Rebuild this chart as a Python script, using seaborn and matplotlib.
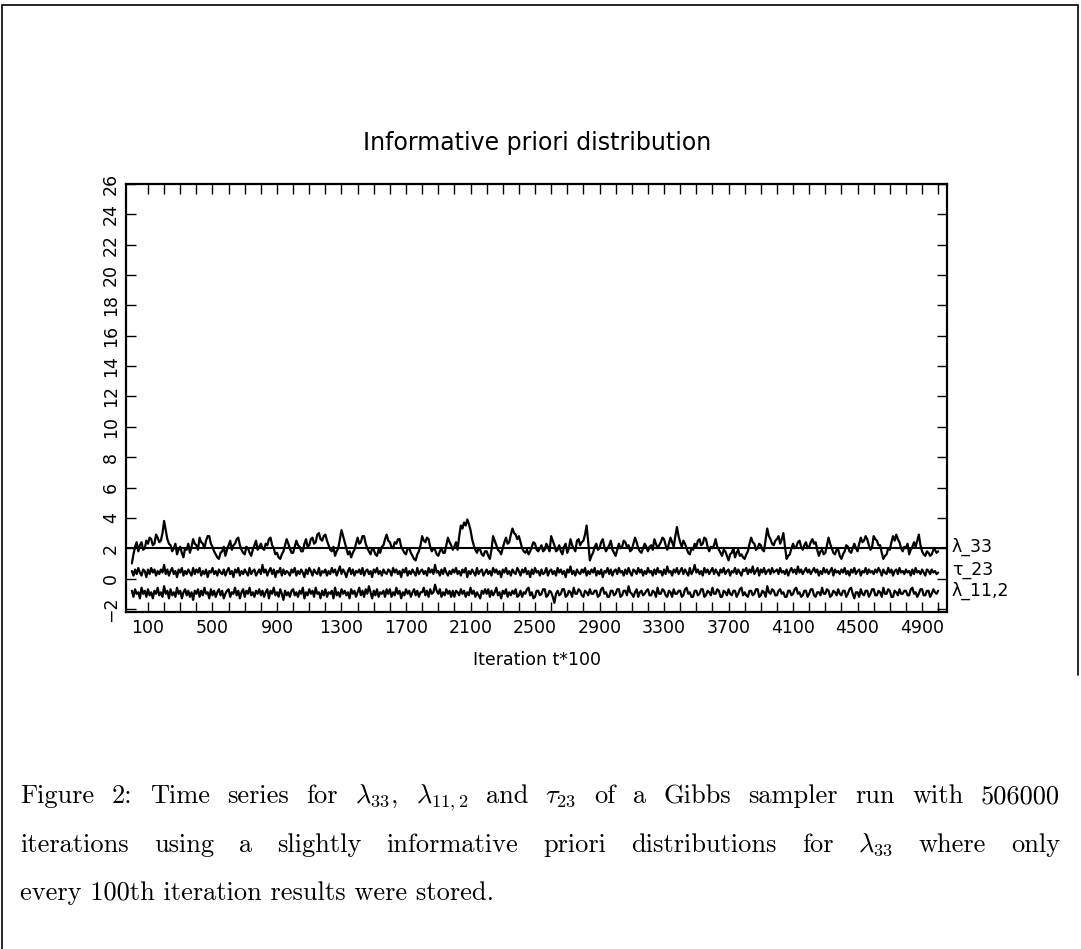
import numpy as np
import pandas as pd
import matplotlib
matplotlib.use("Agg")
import matplotlib.pyplot as plt
import seaborn as sns

# stored iterations (x axis in units of 100 iterations)
iterations = list(range(0, 5001, 10))

# lambda_33 trace
lam33 = [
    1.0, 1.6, 2.1, 2.4, 1.8, 2.2, 2.4, 1.9, 2.0, 2.5, 2.3, 2.7, 2.6, 2.2, 2.3, 2.9, 2.7, 2.4, 2.5, 3.0,
    3.8, 3.2, 2.6, 2.3, 2.2, 1.8, 2.0, 2.3, 1.6, 1.9, 2.1, 1.7, 1.4, 2.0, 1.9, 2.3, 1.7, 2.1, 2.6, 2.3,
    2.2, 1.9, 2.7, 2.4, 2.3, 2.0, 2.5, 2.8, 2.8, 2.3, 2.1, 1.8, 1.6, 1.4, 1.3, 1.7, 1.8, 2.1, 1.5, 1.9,
    2.2, 2.5, 1.9, 2.2, 2.3, 2.6, 2.7, 2.2, 1.9, 1.7, 1.6, 2.1, 2.0, 1.7, 1.5, 1.9, 2.2, 2.5, 1.9, 2.1,
    2.3, 2.0, 1.9, 2.3, 2.2, 2.6, 2.7, 2.2, 2.0, 1.6, 1.7, 1.4, 1.3, 1.6, 1.8, 2.2, 2.6, 2.3, 2.0, 1.7,
    1.7, 2.1, 2.5, 2.2, 2.1, 1.8, 1.8, 2.3, 2.6, 2.1, 2.2, 2.6, 2.7, 2.3, 2.4, 2.9, 3.0, 2.6, 2.5, 2.8,
    2.9, 2.5, 2.2, 1.9, 1.8, 2.1, 1.5, 1.8, 2.0, 2.6, 3.2, 2.8, 2.4, 2.0, 1.6, 1.8, 1.4, 1.7, 1.9, 2.3,
    2.7, 2.3, 2.4, 2.8, 2.8, 2.3, 2.0, 1.8, 1.6, 2.0, 1.9, 1.6, 1.5, 1.9, 1.7, 2.1, 2.2, 2.6, 2.9, 2.5,
    2.4, 2.1, 2.0, 2.4, 2.3, 2.6, 2.6, 2.1, 1.9, 1.7, 1.6, 2.0, 2.0, 1.7, 1.5, 1.3, 1.2, 1.6, 1.8, 2.2,
    2.8, 2.5, 2.4, 2.7, 2.6, 2.1, 1.8, 2.0, 1.9, 1.6, 1.5, 1.8, 2.0, 1.7, 1.7, 2.2, 2.7, 2.4, 2.2, 1.9,
    2.1, 2.4, 1.9, 2.8, 3.5, 3.3, 3.7, 3.5, 3.9, 3.6, 3.2, 2.6, 2.2, 1.9, 1.7, 2.0, 1.9, 1.6, 1.5, 1.8,
    1.8, 1.5, 1.3, 1.9, 2.8, 2.5, 2.2, 1.9, 1.8, 1.6, 2.0, 2.4, 2.7, 2.3, 2.4, 2.9, 3.3, 3.0, 2.9, 2.6,
    2.8, 2.4, 2.0, 1.8, 1.7, 1.9, 1.6, 1.8, 2.1, 2.4, 2.3, 1.9, 1.8, 2.0, 2.2, 1.8, 1.9, 2.3, 2.1, 1.8,
    2.8, 2.5, 2.2, 1.8, 1.9, 2.2, 1.8, 1.6, 2.1, 2.3, 1.7, 2.0, 2.6, 2.2, 2.0, 1.8, 2.5, 2.6, 2.2, 2.4,
    2.5, 2.9, 3.5, 2.4, 1.2, 1.5, 1.7, 2.1, 2.3, 1.9, 2.0, 2.4, 2.6, 2.1, 1.8, 2.0, 2.2, 2.5, 1.9, 1.7,
    1.5, 1.9, 2.3, 2.0, 2.1, 2.5, 2.4, 2.1, 2.2, 1.8, 1.9, 2.3, 2.7, 2.4, 2.0, 1.8, 1.7, 2.0, 2.3, 2.1,
    1.8, 2.1, 2.2, 1.9, 2.6, 2.3, 2.0, 2.2, 2.4, 2.7, 2.6, 2.2, 1.9, 2.3, 2.7, 2.4, 2.1, 2.8, 3.4, 2.8,
    2.4, 2.1, 2.5, 2.3, 2.0, 1.7, 1.6, 2.0, 1.9, 2.3, 2.1, 2.5, 2.6, 2.2, 2.3, 2.7, 2.6, 2.1, 1.8, 2.1,
    2.0, 2.2, 2.6, 2.1, 1.9, 1.7, 1.5, 1.9, 1.8, 1.5, 1.2, 1.6, 1.7, 2.0, 1.4, 1.7, 1.9, 1.5, 1.6, 1.4,
    1.3, 1.6, 1.8, 2.3, 2.7, 2.4, 2.3, 1.9, 2.0, 2.3, 2.2, 1.9, 1.8, 2.6, 3.3, 2.8, 2.6, 2.3, 2.2, 2.5,
    2.6, 2.8, 2.3, 2.6, 3.0, 2.1, 1.3, 1.5, 1.6, 2.0, 2.3, 2.0, 2.1, 2.4, 2.5, 2.1, 1.9, 2.2, 2.4, 2.0,
    2.1, 2.4, 2.6, 2.3, 2.4, 1.9, 1.5, 1.8, 1.9, 1.6, 1.7, 2.2, 2.7, 2.3, 2.0, 1.7, 1.6, 1.9, 1.9, 1.5,
    1.3, 1.6, 1.8, 2.2, 2.1, 1.8, 1.7, 2.0, 2.3, 2.0, 1.8, 2.3, 2.7, 2.4, 2.5, 2.8, 2.6, 2.2, 1.9, 2.1,
    2.8, 2.6, 2.5, 2.2, 2.2, 1.7, 1.3, 1.5, 1.6, 2.0, 1.9, 2.4, 2.8, 2.5, 2.9, 2.6, 2.4, 2.0, 1.8, 2.1,
    2.0, 2.3, 1.6, 1.9, 2.1, 2.4, 2.1, 2.5, 2.9, 2.2, 1.8, 1.6, 1.5, 1.8, 1.7, 1.5, 1.6, 1.9, 1.9, 1.7,
    1.8,
]

# tau_23 trace
tau23 = [
    0.5, 0.2, 0.6, 0.3, 0.7, 0.4, 0.2, 0.6, 0.5, 0.1, 0.6, 0.3, 0.7, 0.4, 0.6, 0.2, 0.5, 0.3, 0.6, 0.4,
    0.9, 0.3, 0.6, 0.2, 0.5, 0.7, 0.3, 0.5, 0.1, 0.6, 0.4, 0.7, 0.2, 0.5, 0.3, 0.6, 0.4, 0.2, 0.7, 0.3,
    0.6, 0.4, 0.7, 0.2, 0.5, 0.3, 0.6, 0.1, 0.5, 0.4, 0.7, 0.3, 0.5, 0.2, 0.6, 0.4, 0.3, 0.6, 0.2, 0.5,
    0.7, 0.3, 0.5, 0.1, 0.6, 0.4, 0.7, 0.2, 0.5, 0.3, 0.6, 0.4, 0.2, 0.7, 0.3, 0.5, 0.6, 0.2, 0.4, 0.6,
    0.3, 0.9, 0.4, 0.6, 0.2, 0.5, 0.7, 0.3, 0.6, 0.1, 0.5, 0.4, 0.7, 0.2, 0.6, 0.3, 0.5, 0.4, 0.2, 0.6,
    0.4, 0.7, 0.2, 0.5, 0.3, 0.6, 0.4, 0.1, 0.6, 0.3, 0.7, 0.5, 0.2, 0.6, 0.4, 0.3, 0.7, 0.2, 0.5, 0.4,
    0.6, 0.2, 0.5, 0.3, 0.7, 0.4, 0.6, 0.2, 0.5, 0.8, 0.3, 0.6, 0.4, 0.1, 0.5, 0.7, 0.3, 0.6, 0.2, 0.5,
    0.4, 0.6, 0.3, 0.7, 0.2, 0.5, 0.6, 0.3, 0.5, 0.1, 0.6, 0.4, 0.7, 0.3, 0.5, 0.2, 0.6, 0.4, 0.3, 0.6,
    0.5, 0.2, 0.7, 0.4, 0.6, 0.3, 0.5, 0.1, 0.6, 0.4, 0.7, 0.2, 0.5, 0.3, 0.6, 0.4, 0.2, 0.7, 0.3, 0.5,
    0.6, 0.3, 0.5, 0.2, 0.7, 0.4, 0.6, 0.3, 0.9, 0.4, 0.5, 0.2, 0.6, 0.3, 0.7, 0.4, 0.2, 0.5, 0.3, 0.6,
    0.4, 0.7, 0.3, 0.5, 0.2, 0.6, 0.4, 0.7, 0.1, 0.5, 0.3, 0.6, 0.4, 0.2, 0.7, 0.3, 0.5, 0.6, 0.2, 0.4,
    0.6, 0.3, 0.5, 0.2, 0.7, 0.4, 0.6, 0.3, 0.5, 0.1, 0.6, 0.4, 0.7, 0.3, 0.5, 0.2, 0.6, 0.4, 0.3, 0.7,
    0.5, 0.2, 0.6, 0.4, 0.7, 0.3, 0.5, 0.1, 0.6, 0.3, 0.7, 0.4, 0.5, 0.2, 0.6, 0.3, 0.4, 0.7, 0.2, 0.5,
    0.6, 0.3, 0.5, 0.2, 0.7, 0.4, 0.6, 0.3, 0.5, 0.1, 0.6, 0.4, 0.8, 0.3, 0.5, 0.2, 0.6, 0.4, 0.3, 0.6,
    0.4, 0.7, 0.2, 0.5, 0.3, 0.6, 0.4, 0.7, 0.2, 0.5, 0.3, 0.6, 0.1, 0.5, 0.4, 0.7, 0.3, 0.6, 0.2, 0.5,
    0.6, 0.3, 0.7, 0.4, 0.5, 0.2, 0.6, 0.3, 0.7, 0.4, 0.2, 0.6, 0.5, 0.3, 0.7, 0.4, 0.6, 0.2, 0.5, 0.3,
    0.7, 0.4, 0.5, 0.2, 0.6, 0.3, 0.7, 0.4, 0.5, 0.2, 0.6, 0.3, 0.8, 0.4, 0.5, 0.2, 0.6, 0.4, 0.7, 0.3,
    0.5, 0.7, 0.3, 0.6, 0.4, 0.2, 0.7, 0.3, 0.5, 0.9, 0.4, 0.6, 0.3, 0.5, 0.2, 0.7, 0.4, 0.6, 0.3, 0.5,
    0.7, 0.3, 0.6, 0.4, 0.2, 0.6, 0.4, 0.7, 0.3, 0.5, 0.6, 0.2, 0.5, 0.4, 0.7, 0.3, 0.6, 0.4, 0.2, 0.6,
    0.5, 0.7, 0.3, 0.6, 0.4, 0.8, 0.3, 0.5, 0.7, 0.2, 0.6, 0.4, 0.7, 0.3, 0.5, 0.6, 0.3, 0.7, 0.4, 0.5,
    0.6, 0.3, 0.7, 0.4, 0.5, 0.3, 0.6, 0.2, 0.5, 0.7, 0.4, 0.6, 0.3, 0.8, 0.4, 0.6, 0.3, 0.5, 0.7, 0.4,
    0.6, 0.3, 0.5, 0.7, 0.4, 0.6, 0.2, 0.5, 0.3, 0.7, 0.4, 0.6, 0.3, 0.5, 0.7, 0.2, 0.6, 0.4, 0.5, 0.3,
    0.6, 0.4, 0.7, 0.3, 0.5, 0.2, 0.6, 0.4, 0.7, 0.3, 0.5, 0.6, 0.2, 0.5, 0.4, 0.7, 0.3, 0.6, 0.4, 0.5,
    0.3, 0.6, 0.4, 0.7, 0.5, 0.2, 0.6, 0.4, 0.3, 0.7, 0.4, 0.6, 0.2, 0.5, 0.6, 0.3, 0.7, 0.4, 0.5, 0.3,
    0.6, 0.4, 0.5, 0.2, 0.6, 0.3, 0.7, 0.4, 0.5, 0.3, 0.6, 0.4, 0.2, 0.6, 0.5, 0.3, 0.6, 0.4, 0.5, 0.3,
    0.4,
]

# lambda_11,2 trace
lam112 = [
    -0.8, -1.2, -0.7, -1.0, -0.9, -1.3, -0.6, -1.0, -0.8, -1.2, -0.7, -1.1, -0.9, -1.3, -0.8, -1.0, -0.6, -1.1, -0.9, -1.2,
    -0.5, -1.0, -0.8, -1.3, -0.7, -1.1, -0.9, -1.2, -0.6, -1.0, -0.8, -1.3, -0.9, -0.7, -1.1, -0.8, -1.2, -0.9, -1.4, -0.8,
    -1.0, -0.7, -1.2, -0.8, -1.1, -0.6, -1.0, -0.9, -1.3, -0.7, -1.1, -0.8, -1.2, -0.9, -0.7, -1.1, -0.8, -1.3, -1.0, -0.8,
    -0.7, -1.2, -0.9, -1.0, -0.6, -1.1, -0.8, -1.3, -0.9, -0.7, -1.2, -0.8, -1.0, -0.6, -1.1, -0.9, -1.2, -0.8, -1.0, -0.7,
    -1.1, -0.8, -1.2, -0.9, -0.7, -1.3, -0.8, -1.0, -0.6, -1.1, -0.9, -1.2, -0.7, -1.0, -1.4, -0.8, -1.1, -0.9, -1.2, -0.8,
    -0.7, -1.1, -0.9, -1.2, -0.8, -1.0, -0.6, -1.3, -0.9, -1.1, -0.7, -1.0, -0.8, -1.2, -0.6, -1.0, -0.9, -1.3, -0.8, -1.1,
    -0.7, -1.2, -0.9, -1.0, -0.8, -1.3, -0.6, -1.1, -0.9, -1.2, -0.7, -1.0, -0.8, -1.1, -0.9, -1.3, -0.7, -1.0, -0.8, -1.2,
    -0.9, -0.6, -1.1, -0.8, -1.2, -0.7, -1.0, -0.5, -0.9, -1.3, -0.8, -1.1, -0.7, -1.2, -0.9, -1.0, -0.8, -1.2, -0.7, -1.0,
    -0.7, -1.2, -0.9, -1.1, -0.6, -1.0, -0.8, -1.3, -0.9, -1.1, -0.7, -1.0, -0.8, -1.2, -0.9, -0.7, -1.1, -0.8, -1.2, -0.9,
    -0.9, -0.6, -1.1, -0.8, -1.2, -0.7, -1.0, -0.9, -0.4, -0.8, -1.0, -0.7, -1.2, -0.9, -1.1, -0.7, -1.0, -0.8, -1.2, -0.8,
    -1.2, -0.8, -0.9, -1.1, -0.7, -1.0, -0.8, -1.2, -0.9, -1.1, -0.6, -1.0, -0.8, -1.2, -0.9, -1.1, -1.3, -0.8, -1.0, -0.7,
    -1.0, -0.7, -1.2, -0.8, -1.1, -0.9, -0.6, -1.1, -0.9, -1.3, -0.8, -1.0, -0.7, -1.2, -0.9, -1.1, -0.8, -1.0, -0.7, -1.2,
    -1.1, -0.8, -1.2, -0.9, -1.0, -0.7, -0.6, -1.1, -0.9, -1.3, -1.2, -0.8, -0.8, -1.1, -1.0, -0.7, -0.7, -1.2, -1.1, -0.8,
    -0.9, -1.2, -1.6, -1.0, -0.8, -1.1, -1.0, -0.7, -0.7, -1.2, -1.1, -0.8, -0.9, -1.2, -0.6, -1.0, -1.0, -0.7, -0.8, -1.1,
    -1.2, -0.8, -0.9, -1.1, -0.7, -1.0, -1.0, -0.8, -0.8, -1.2, -1.1, -0.7, -0.6, -1.0, -0.9, -1.2, -1.2, -0.8, -0.8, -1.1,
    -1.0, -0.7, -0.7, -1.2, -1.1, -0.8, -0.8, -1.1, -0.5, -0.9, -1.0, -1.2, -0.9, -0.7, -1.2, -0.9, -0.8, -1.1, -1.0, -0.8,
    -0.7, -1.1, -1.1, -0.8, -0.9, -1.2, -0.6, -1.0, -1.0, -0.7, -0.8, -1.1, -1.2, -0.8, -0.9, -1.2, -0.7, -1.0, -1.0, -0.8,
    -0.8, -1.2, -1.1, -0.7, -0.6, -1.0, -0.9, -1.2, -1.2, -0.8, -0.8, -1.1, -1.0, -0.7, -0.7, -1.2, -1.1, -0.8, -0.9, -1.1,
    -0.6, -1.0, -1.0, -0.7, -0.8, -1.2, -1.2, -0.8, -0.9, -1.1, -0.7, -1.0, -1.1, -0.8, -0.8, -1.2, -1.0, -0.7, -0.6, -1.1,
    -0.9, -1.1, -1.2, -0.8, -0.8, -1.1, -1.0, -0.7, -0.7, -1.2, -1.1, -0.8, -0.9, -1.2, -0.5, -0.9, -1.0, -0.7, -0.8, -1.1,
    -1.1, -0.8, -0.7, -1.0, -0.9, -1.2, -1.2, -0.8, -0.8, -1.1, -1.0, -0.7, -0.6, -1.0, -0.9, -1.2, -1.1, -0.8, -0.8, -1.2,
    -1.0, -0.7, -0.7, -1.1, -1.2, -0.9, -0.9, -1.1, -0.6, -1.0, -1.0, -0.7, -0.8, -1.2, -1.1, -0.8, -0.9, -1.1, -0.7, -1.0,
    -1.1, -0.8, -0.8, -1.2, -1.0, -0.7, -0.6, -1.0, -1.3, -0.9, -0.9, -1.2, -0.7, -1.0, -1.1, -0.8, -0.8, -1.2, -1.0, -0.7,
    -0.7, -1.1, -1.1, -0.8, -0.9, -1.2, -0.6, -1.0, -1.0, -0.7, -0.8, -1.2, -1.2, -0.8, -0.9, -1.1, -0.7, -1.0, -1.0, -0.8,
    -0.8, -1.1, -1.1, -0.7, -0.6, -1.0, -0.9, -1.2, -1.0, -0.7, -0.7, -1.1, -1.1, -0.8, -0.8, -1.2, -1.0, -0.7, -0.9, -1.0,
    -0.8,
]

ref_level = 2.0
series_labels = ["λ_33", "τ_23", "λ_11,2"]
label_y = [2.1, 0.6, -0.8]
x_ticklabels = [100, 500, 900, 1300, 1700, 2100, 2500, 2900, 3300, 3700, 4100, 4500, 4900]
y_ticklabels = list(range(-2, 27, 2))

sns.set_style("white")
plt.rcParams["font.family"] = ["DejaVu Sans"]
plt.rcParams["mathtext.fontset"] = "cm"
plt.rcParams["text.color"] = "black"
plt.rcParams["xtick.color"] = "black"
plt.rcParams["ytick.color"] = "black"

df = pd.DataFrame({"iter": iterations, "lam33": lam33, "tau23": tau23, "lam112": lam112})

fig = plt.figure(figsize=(10.81, 9.49), dpi=100)
ax = fig.add_axes([0.1166, 0.3551, 0.7595, 0.4510])

for col in ["lam33", "tau23", "lam112"]:
    sns.lineplot(data=df, x="iter", y=col, ax=ax, color="black", linewidth=1.6,
                 estimator=None, sort=False)
ax.axhline(ref_level, color="black", linewidth=1.5)

ax.set_xlim(-36, 5055)
ax.set_ylim(-2.2, 26)
ax.set_xticks(x_ticklabels)
ax.set_xticklabels([str(v) for v in x_ticklabels], fontsize=12.5)
ax.set_xticks(range(100, 5001, 100), minor=True)
ax.set_yticks(y_ticklabels)
ax.set_yticklabels([str(v).replace("-", "\u2212") for v in y_ticklabels], fontsize=12.5,
                   rotation=90, va="center")
ax.tick_params(axis="both", which="both", direction="in", length=7, width=1,
               top=True, right=True, bottom=True, left=True, color="black", labelcolor="black")
ax.tick_params(axis="x", pad=5)
ax.tick_params(axis="y", pad=4.5)
for s in ax.spines.values():
    s.set_linewidth(1.6)
    s.set_color("black")
ax.set_xlabel("")
ax.set_ylabel("")

for lab, yv in zip(series_labels, label_y):
    ax.text(1.006, yv, lab, transform=ax.get_yaxis_transform(), fontsize=12.5,
            va="center", ha="left", color="black")

fig.text(0.497, 0.849, "Informative priori distribution", fontsize=17, ha="center", va="center",
         color="black")
fig.text(0.497, 1 - 660 / 949, "Iteration t*100", fontsize=12.5, ha="center", va="center",
         color="black")

# caption, first two lines justified to the page width
cap_lines = [
    ["Figure", "2:", "Time", "series", "for", r"$\lambda_{33}$,", r"$\lambda_{11,2}$", "and",
     r"$\tau_{23}$", "of", "a", "Gibbs", "sampler", "run", "with", "506000"],
    ["iterations", "using", "a", "slightly", "informative", "priori", "distributions", "for",
     r"$\lambda_{33}$", "where", "only"],
]
cap_last = "every 100th iteration results were stored."
cap_y = [803, 852, 900]
cap_left, cap_right = 20, 1060
cap_size = 19

renderer = fig.canvas.get_renderer()
for words, yp in zip(cap_lines, cap_y):
    items = [fig.text(0, 1 - yp / 949, w, fontsize=cap_size, family="cmr10",
                      ha="left", va="baseline", color="black") for w in words]
    widths = [t.get_window_extent(renderer).width for t in items]
    gap = (cap_right - cap_left - sum(widths)) / (len(items) - 1)
    xp = cap_left
    for t, w in zip(items, widths):
        t.set_x(xp / 1081)
        xp += w + gap
fig.text(cap_left / 1081, 1 - cap_y[2] / 949, cap_last, fontsize=cap_size, family="cmr10",
         ha="left", va="baseline", color="black")

# page frame
fig.add_artist(plt.Line2D([2 / 1081, 2 / 1081], [0, 1 - 5 / 949], color="black", lw=1.2))
fig.add_artist(plt.Line2D([2 / 1081, 1078 / 1081], [1 - 5 / 949, 1 - 5 / 949], color="black", lw=1.2))
fig.add_artist(plt.Line2D([1078 / 1081, 1078 / 1081], [1 - 5 / 949, 1 - 675 / 949], color="black", lw=1.2))

fig.savefig("out.png", dpi=100)
